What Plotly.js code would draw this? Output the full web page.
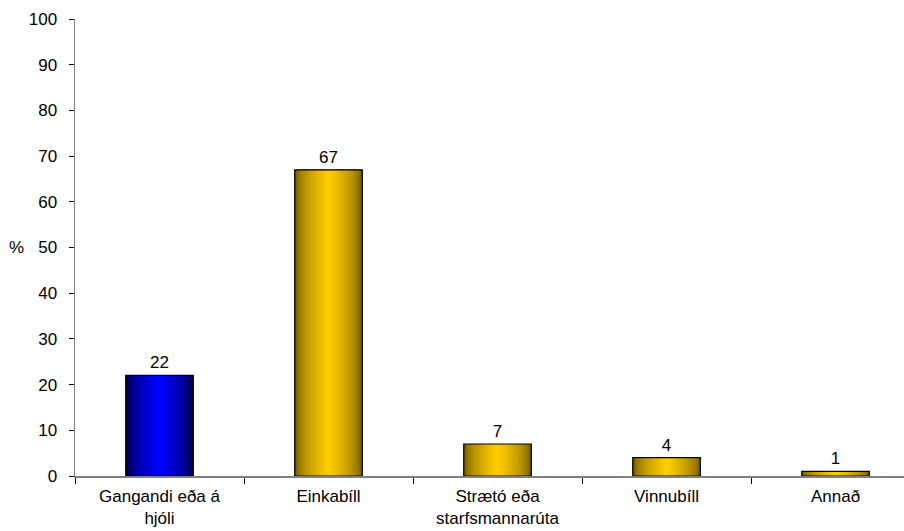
<!DOCTYPE html>
<html>
<head>
<meta charset="utf-8">
<script src="https://cdn.plot.ly/plotly-3.0.1.min.js"></script>
<style>html,body{margin:0;padding:0;overflow:hidden;background:#fff}#chart{width:904px;height:531px}</style>
</head>
<body>
<div id="chart"></div>
<script>
const categories = ["Gangandi eða á<br>hjóli", "Einkabíll", "Strætó eða<br>starfsmannarúta", "Vinnubíll", "Annað"];
const values = [22, 67, 7, 4, 1];
const valueLabels = ["22", "67", "7", "4", "1"];
const yTicks = [0, 10, 20, 30, 40, 50, 60, 70, 80, 90, 100];
const yAxisLabel = "%";

// colour per category: [dark edge rgb, bright centre rgb]
const palettes = [
  [[0, 0, 55], [0, 0, 255]],
  [[105, 84, 0], [255, 204, 0]],
  [[105, 84, 0], [255, 204, 0]],
  [[105, 84, 0], [255, 204, 0]],
  [[105, 84, 0], [255, 204, 0]]
];

const FONT = 'Liberation Sans, Arial, sans-serif';
const FS = 17;
const barWidth = 0.4;
const layers = 22;
const traces = [];
for (let k = 0; k < layers; k++) {
  const t = k / (layers - 1);
  const f = Math.pow(t, 0.55);
  const colors = palettes.map(p => {
    const c = p[0].map((d, i) => Math.round(d + (p[1][i] - d) * f));
    return `rgb(${c[0]},${c[1]},${c[2]})`;
  });
  const w = barWidth * (1 - k / layers);
  traces.push({
    type: 'bar', x: categories, y: values,
    width: categories.map(() => w),
    marker: {color: colors, line: {width: 0}},
    hoverinfo: 'skip', showlegend: false
  });
}
traces.push({
  type: 'bar', x: categories, y: values,
  width: categories.map(() => barWidth),
  marker: {color: 'rgba(0,0,0,0)', line: {color: '#000', width: 1.2}},
  text: valueLabels, textposition: 'outside', cliponaxis: false,
  textfont: {family: FONT, size: FS, color: '#000'},
  showlegend: false
});

const layout = {
  width: 904, height: 531,
  margin: {l: 75, r: 0, t: 19, b: 55},
  barmode: 'overlay',
  paper_bgcolor: '#fff', plot_bgcolor: '#fff',
  font: {family: FONT, size: FS, color: '#000'},
  xaxis: {
    type: 'category', range: [-0.5, 4.405],
    showline: true, linecolor: '#808080', linewidth: 1.5,
    ticks: 'outside', tickson: 'boundaries', ticklen: 6, tickcolor: '#000', tickwidth: 1,
    ticklabelstandoff: 4,
    showgrid: false, zeroline: false, fixedrange: true
  },
  yaxis: {
    range: [0, 100], tickvals: yTicks, ticktext: yTicks.map(String),
    showline: true, linecolor: '#808080', linewidth: 1.5,
    ticks: 'outside', ticklen: 5, tickcolor: '#000', tickwidth: 1,
    ticklabelstandoff: 8,
    showgrid: false, zeroline: false
  },
  annotations: [{
    text: yAxisLabel, xref: 'paper', yref: 'y', x: -0.07, y: 50,
    xanchor: 'center', yanchor: 'middle', showarrow: false,
    font: {family: FONT, size: FS, color: '#000'}
  }]
};
Plotly.newPlot('chart', traces, layout, {displayModeBar: false, staticPlot: true});
</script>
</body>
</html>
